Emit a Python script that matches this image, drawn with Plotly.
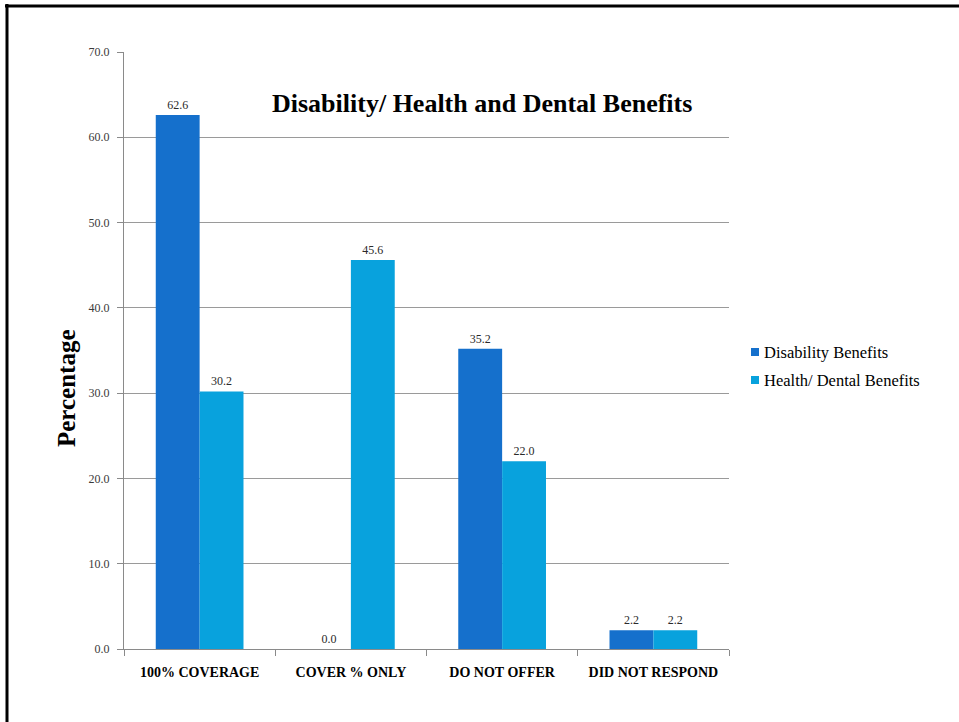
import plotly.graph_objects as go

# Survey results: share of respondents per benefit coverage type
categories = ["100% COVERAGE", "COVER % ONLY", "DO NOT OFFER", "DID NOT RESPOND"]
disability = [62.6, 0.0, 35.2, 2.2]
health_dental = [30.2, 45.6, 22.0, 2.2]
y_ticks = [0, 10, 20, 30, 40, 50, 60, 70]
series_names = ["Disability Benefits", "Health/ Dental Benefits"]

DARK_BLUE = "#1570CC"
LIGHT_BLUE = "#08A2DD"
SERIF = "Liberation Serif, DejaVu Serif, serif"

fig = go.Figure()
for name, vals, col in [(series_names[0], disability, DARK_BLUE),
                        (series_names[1], health_dental, LIGHT_BLUE)]:
    fig.add_trace(go.Bar(
        x=categories, y=vals, name=name,
        marker=dict(color=col, line=dict(width=0)),
        text=[f"{v:.1f}" for v in vals], textposition="outside",
        textfont=dict(family=SERIF, size=12, color="#2a2a2a"),
        cliponaxis=False, showlegend=False,
    ))

L, R, T, B = 124, 230, 52, 73
W, H = 959, 722
pw, ph = W - L - R, H - T - B

def px_x(px):
    return (px - L) / pw

def px_y(py):
    return (H - B - py) / ph

fig.update_layout(
    width=W, height=H,
    margin=dict(l=L, r=R, t=T, b=B, pad=0),
    paper_bgcolor="white", plot_bgcolor="white",
    barmode="group", bargap=0.42, bargroupgap=0,
    font=dict(family=SERIF, color="#000000"),
    xaxis=dict(
        type="category", tickson="boundaries", ticks="outside", ticklen=6,
        tickcolor="#8a8a8a", showline=True, linecolor="#8a8a8a", linewidth=1,
        showgrid=False, ticklabelstandoff=10,
        tickfont=dict(family=SERIF, size=14, color="#000000", weight="bold"),
    ),
    yaxis=dict(
        range=[0, 70], tickvals=y_ticks,
        ticktext=[f"{v:.1f}" for v in y_ticks],
        ticks="outside", ticklen=6, tickcolor="#8a8a8a",
        showline=True, linecolor="#8a8a8a", linewidth=1,
        showgrid=True, gridcolor="#9a9a9a", gridwidth=1,
        zeroline=False, ticklabelstandoff=5,
        tickfont=dict(family=SERIF, size=12, color="#3a3a3a"),
    ),
    showlegend=False,
)

# Chart title inside the plotting area
fig.add_annotation(
    text="<b>Disability/ Health and Dental Benefits</b>",
    xref="paper", yref="paper", x=px_x(482), y=px_y(104),
    xanchor="center", yanchor="middle", showarrow=False,
    font=dict(family=SERIF, size=26, color="#000000"),
)

# Vertical axis title
fig.add_annotation(
    text="<b>Percentage</b>", textangle=-90,
    xref="paper", yref="paper", x=px_x(66), y=px_y(388),
    xanchor="center", yanchor="middle", showarrow=False,
    font=dict(family=SERIF, size=25, color="#000000"),
)

# Legend: colour square plus series name
for i, (name, col) in enumerate(zip(series_names, [DARK_BLUE, LIGHT_BLUE])):
    cy = 352 + 28 * i
    fig.add_shape(type="rect", xref="paper", yref="paper",
                  x0=px_x(751), x1=px_x(759), y0=px_y(cy - 4), y1=px_y(cy + 4),
                  fillcolor=col, line=dict(width=0))
    fig.add_annotation(
        text=name, xref="paper", yref="paper", x=px_x(762), y=px_y(cy),
        xanchor="left", yanchor="middle", showarrow=False,
        font=dict(family=SERIF, size=16.5, color="#000000"),
    )

# Frame lines along the left and top edges of the page
fig.add_shape(type="line", xref="paper", yref="paper",
              x0=px_x(7), x1=px_x(7), y0=px_y(4), y1=px_y(H + 2),
              line=dict(color="#000000", width=3))
fig.add_shape(type="line", xref="paper", yref="paper",
              x0=px_x(5), x1=px_x(W + 2), y0=px_y(6), y1=px_y(6),
              line=dict(color="#000000", width=3))

fig.write_html("out.html")
